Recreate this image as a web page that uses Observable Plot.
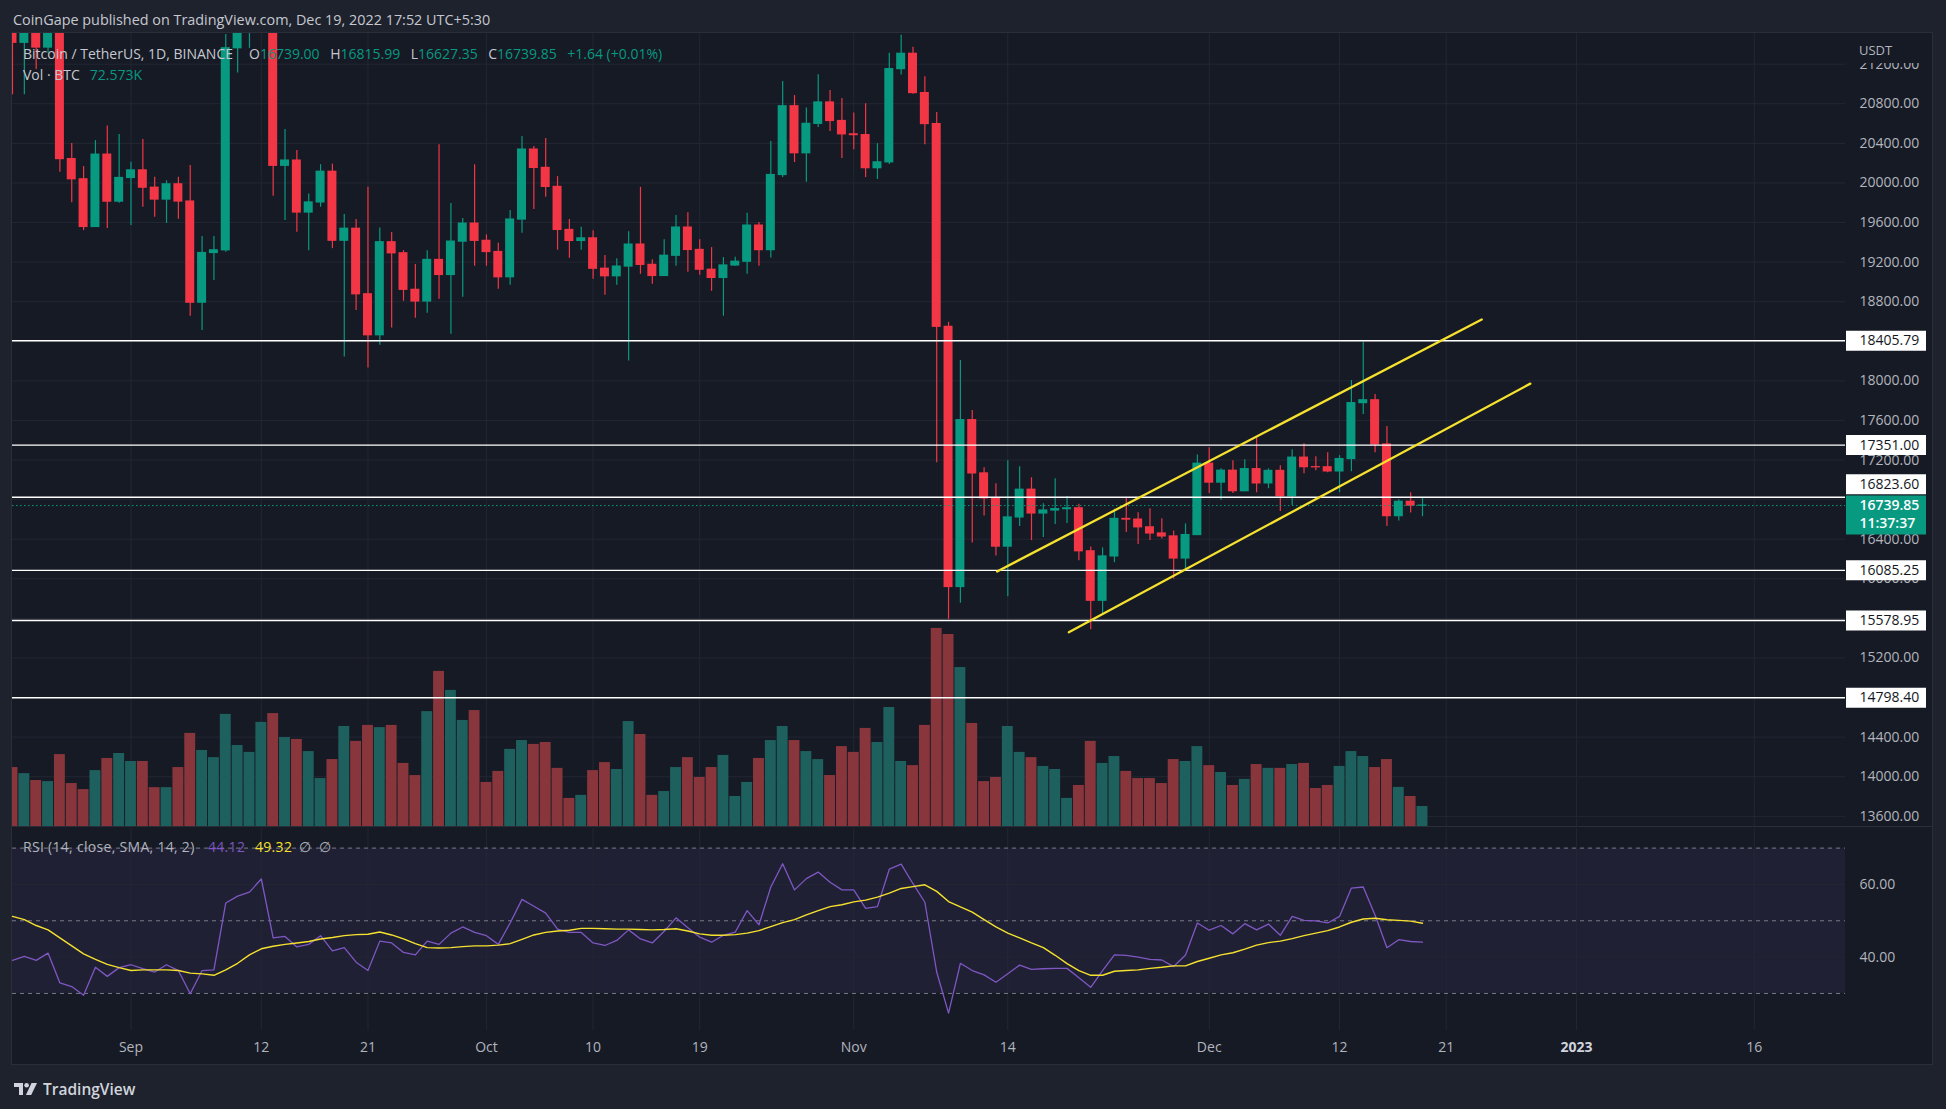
<!DOCTYPE html>
<html>
<head>
<meta charset="utf-8">
<script src="https://cdn.jsdelivr.net/npm/d3@7"></script>
<script src="https://cdn.jsdelivr.net/npm/@observablehq/plot@0.6"></script>
<style>
html, body { margin:0; padding:0; width:1946px; height:1109px; overflow:hidden; background:#1e222d; font-family:"Open Sans", sans-serif; }
#root { position:relative; width:1946px; height:1109px; }
.abs { position:absolute; }
.abs svg { display:block; max-width:none; }
.txt { position:absolute; white-space:nowrap; }
</style>
</head>
<body>
<div id="root"></div>
<script>
// ---------------- DATA ----------------
const firstDay = "2022-08-22";           // first candle (daily, UTC)
const opens = [21517,21416,21529,21368,21560,20241,20037,19555,20286,19811,
20050,20127,19952,19832,19986,19812,18790,19292,19319,21361,
21652,21826,22395,20173,20226,19701,19803,20113,19416,19537,
18875,18461,19401,19289,18920,18802,19222,19070,19407,19589,
19415,19302,19047,19630,20337,20152,19960,19525,19414,19440,
19133,19057,19155,19377,19172,19060,19264,19549,19323,19123,
19040,19166,19204,19569,19321,20080,20775,20300,20597,20813,
20626,20491,20483,20149,20208,21150,21305,20908,20595,18546,
15917,17603,17065,16813,16325,16620,16900,16660,16690,16704,
16712,16278,15778,16226,16605,16598,16520,16458,16428,16205,
16442,17163,16972,17092,16885,17108,16964,17090,16834,17224,
17128,17127,17085,17210,17775,17804,17357,16633,16778,16739.00];
const highs = [21548,21684,21900,21819,21887,20399,20165,20428,20575,20489,
20209,20440,20057,20022,20057,20175,19458,19458,21500,21810,
21860,22488,22799,20541,20327,19889,20185,20190,19680,19630,
19956,19545,19498,19316,19175,19316,20387,19791,19640,20185,
19475,19390,19721,20468,20367,20448,20064,19630,19552,19518,
19266,19235,19508,19956,19225,19427,19670,19700,19427,19347,
19246,19249,19694,19599,20418,21025,20882,20756,21094,20935,
20854,20707,20801,20397,21310,21493,21371,21074,20711,18593,
18206,17701,17123,16960,17193,17132,17021,16758,17011,16832,
16754,16322,16312,16704,16822,16667,16707,16606,16484,16555,
17251,17325,17112,17193,17203,17436,17112,17143,17305,17365,
17234,17274,17244,18004,18389,17862,17538,16798,16869,16815.99];
const lows = [20890,20890,21145,21310,20107,19800,19518,19550,19540,19795,
19570,19754,19653,19590,19633,18653,18510,19013,19300,21111,
21360,21538,19866,19620,19502,19316,19754,19336,18240,18710,
18130,18360,18535,18804,18633,18683,18825,18471,18845,19158,
19158,18926,18966,19491,19731,19855,19320,19239,19320,19027,
18865,18966,18200,19077,18976,19057,19158,19097,19067,18905,
18653,19158,19077,19158,19241,20055,20206,20006,20560,20520,
20247,20336,20055,20035,20186,21090,20895,20385,17172,15591,
15754,16361,16634,16231,15819,16528,16386,16416,16548,16558,
16183,15485,15630,16163,16467,16346,16386,16403,15998,16096,
16437,16862,16791,16862,16879,16869,16910,16680,16741,17061,
17092,17072,16869,17082,17659,17274,16528,16585,16666,16627.35];
const closes = [21416,21529,21368,21560,20241,20037,19555,20286,19811,20050,
20127,19952,19832,19986,19812,18790,19292,19319,21361,21652,
21826,22395,20173,20226,19701,19803,20113,19416,19537,18875,
18461,19401,19289,18920,18802,19222,19070,19407,19589,19415,
19302,19047,19630,20337,20152,19960,19525,19414,19440,19133,
19057,19155,19377,19172,19060,19264,19549,19323,19123,19040,
19166,19204,19569,19321,20080,20775,20300,20597,20813,20626,
20491,20483,20149,20208,21150,21305,20908,20595,18546,15917,
17603,17065,16813,16325,16620,16900,16660,16690,16704,16712,
16278,15778,16226,16605,16598,16520,16458,16428,16205,16442,
17163,16972,17092,16885,17108,16964,17090,16834,17224,17128,
17127,17085,17210,17775,17804,17357,16633,16778,16739,16739.85];
// volume in thousand BTC
const volumesK = [214,192,167,163,261,156,134,203,247,265,
236,236,141,141,214,338,276,250,407,294,
269,378,410,323,316,272,174,243,363,309,
367,359,367,229,185,417,563,494,385,421,
160,200,280,312,298,305,211,102,113,203,
232,207,381,334,113,127,214,250,178,214,
258,109,160,247,312,363,312,272,243,185,
290,269,356,305,432,236,221,367,719,697,
577,374,163,178,363,269,250,218,207,102,
149,309,229,254,200,174,174,156,243,236,
290,221,196,149,171,225,211,211,225,229,
138,149,218,272,254,214,243,142,109,72.573];
const rsiValues = [39.1,40.2,39.1,41.1,32.9,31.9,29.5,37.2,34.7,37.1,
37.9,36.8,35.9,37.9,36.3,29.9,36.3,36.5,54.9,56.8,
57.9,61.5,45.3,45.7,42.8,43.5,45.9,41.7,42.6,38.6,
36.3,44.4,43.9,41.3,40.6,44.4,43.5,46.6,48.3,46.8,
45.9,43.5,49.4,55.9,54.0,52.1,47.7,46.8,46.8,43.9,
43.2,44.6,47.5,45.0,43.9,47.1,50.8,48.1,45.5,44.1,
46.0,46.9,52.8,48.9,59.3,65.7,58.5,61.6,63.4,60.6,
58.5,58.5,53.4,53.9,64.2,65.6,60.2,55.1,35.9,24.6,
38.3,36.3,35.1,33.1,35.4,37.8,36.6,36.8,36.9,36.9,
34.3,31.7,36.3,40.6,40.5,40.0,39.4,39.2,37.4,40.6,
49.4,47.4,48.7,46.4,49.2,47.5,49.1,46.0,51.2,50.1,
50.0,49.4,51.2,59.0,59.3,51.5,42.6,44.8,44.3,44.12];
const rsiSMA = [51.2,50.3,48.7,47.5,45.3,43.1,40.9,39.4,38.0,37.1,
36.3,36.5,36.5,36.5,36.3,35.6,35.4,35.0,36.5,38.3,
40.6,42.3,43.0,43.5,43.9,44.3,45.0,45.4,45.9,46.2,
46.3,46.9,46.1,45.0,43.7,42.6,42.5,42.6,42.9,43.1,
43.1,43.3,43.7,44.9,46.1,46.8,47.2,47.4,47.9,47.9,
47.8,47.7,47.7,47.6,47.5,47.6,47.8,47.2,46.4,46.0,
46.0,46.2,46.6,47.3,48.4,49.5,50.3,51.6,52.8,53.9,
54.4,55.2,55.7,56.5,57.6,58.9,59.4,59.9,58.1,55.3,
53.8,52.4,50.3,48.3,46.6,45.3,43.9,42.6,40.5,38.2,
36.3,35.0,35.0,36.1,36.3,36.5,36.9,37.2,37.6,37.6,
38.8,39.7,40.6,41.2,42.2,43.3,44.0,44.4,45.1,45.9,
46.6,47.3,48.3,49.6,50.5,50.7,50.3,50.1,49.9,49.32];
const levelPrices = [18405.79, 17351.00, 16823.60, 16085.25, 15578.95, 14798.40];
const priceGridTicks = [13600,14000,14400,14800,15200,15600,16000,16400,16800,17200,17600,18000,18400,18800,19200,19600,20000,20400,20800,21200];
const priceAxisLabels = [21200,20800,20400,20000,19600,19200,18800,18000,17600,17200,16400,16000,15200,14400,14000,13600];
const rsiGridTicks = [60, 40];
const rsiBands = [70, 50, 30];
const timeTickDates = ["2022-09-01","2022-09-12","2022-09-21","2022-10-01","2022-10-10","2022-10-19","2022-11-01","2022-11-14","2022-12-01","2022-12-12","2022-12-21","2023-01-01","2023-01-16"];
const timeTickLabels = ["Sep","12","21","Oct","10","19","Nov","14","Dec","12","21","2023","16"];
// channel lines: [days after first candle], [price]
const channelUpperDays = [83.1, 124.0], channelUpperPrices = [16074, 18620];
const channelLowerDays = [89.15, 128.1], channelLowerPrices = [15460, 17972];
const countdown = "11:37:37";

// ---------------- BUILD ----------------
const DAY = 86400000;
const t0 = +new Date(firstDay);
const dayDate = k => new Date(t0 + k * DAY);
const candles = closes.map((c, i) => ({
  date: dayDate(i), open: opens[i], high: highs[i], low: lows[i], close: c,
  volume: volumesK[i], rsi: rsiValues[i], ma: rsiSMA[i]
}));
const last = candles[candles.length - 1];
const upper = channelUpperDays.map((d, i) => ({date: dayDate(d), price: channelUpperPrices[i]}));
const lower = channelLowerDays.map((d, i) => ({date: dayDate(d), price: channelLowerPrices[i]}));
const ticks = timeTickDates.map((d, i) => ({date: new Date(d), label: timeTickLabels[i]}));

const GREEN = "#089981", RED = "#f23645", VGREEN = "#1e605e", VRED = "#88363b";
const GRID = "#232733", TXT = "#b2b5be", YEL = "#f5e12e", PURP = "#7e57c2";
const isUp = d => d.close >= d.open;

const xDomain = [dayDate(0), dayDate(154.7)];
const priceDomain = [13497, 21510];
const root = document.getElementById("root");

function place(el, left, top, w) {
  const d = document.createElement("div");
  d.className = "abs";
  d.style.left = left + "px"; d.style.top = top + "px";
  if (w) d.style.width = w + "px";
  d.appendChild(el); root.appendChild(d); return d;
}
function box(left, top, w, h, bg, extra) {
  const d = document.createElement("div");
  d.className = "abs";
  Object.assign(d.style, {left: left+"px", top: top+"px", width: w+"px", height: h+"px", background: bg}, extra || {});
  root.appendChild(d); return d;
}
function text(html, left, top, css) {
  const d = document.createElement("div");
  d.className = "txt";
  d.innerHTML = html;
  Object.assign(d.style, {left: left+"px", top: top+"px"}, css || {});
  root.appendChild(d); return d;
}
const baseStyle = {background: "transparent", overflow: "visible", fontFamily: "Open Sans, sans-serif"};

// frame
box(11, 32, 1922, 1033, "#161a25", {border: "1px solid #2a2e39", boxSizing: "border-box"});
// header
text("CoinGape published on TradingView.com, Dec 19, 2022 17:52 UTC+5:30", 13, 9, {fontSize: "14.4px", lineHeight: "22px", color: "#c5c8d0"});

const PW = 1845, PH = 793;
const common = {width: PW, height: PH, marginLeft: 12, marginRight: 0, marginTop: 0, marginBottom: 0,
  x: {type: "utc", domain: xDomain, axis: null}, style: baseStyle};

// grid
place(Plot.plot({...common, y: {domain: priceDomain, axis: null},
  marks: [
    Plot.ruleY(priceGridTicks, {stroke: GRID, strokeWidth: 1}),
    Plot.ruleX(ticks, {x: "date", stroke: GRID, strokeWidth: 1})
  ]}), 0, 33, PW);

// volume
place(Plot.plot({...common, y: {domain: [0, PH * 3.63], axis: null}, color: {type: "identity"},
  marks: [
    Plot.rectY(candles, {x1: d => new Date(+d.date - 0.46 * DAY), x2: d => new Date(+d.date + 0.46 * DAY),
      y: "volume", fill: d => isUp(d) ? VGREEN : VRED, clip: true})
  ]}), 0, 33, PW);

// candles & drawings
place(Plot.plot({...common, y: {domain: priceDomain, axis: null}, color: {type: "identity"},
  marks: [
    Plot.ruleX(candles, {x: "date", y1: "low", y2: "high", stroke: d => isUp(d) ? GREEN : RED, strokeWidth: 1.2, clip: true}),
    Plot.rect(candles, {x1: d => new Date(+d.date - 0.38 * DAY), x2: d => new Date(+d.date + 0.38 * DAY),
      y1: "open", y2: "close", fill: d => isUp(d) ? GREEN : RED, insetTop: -0.6, insetBottom: -0.6, clip: true}),
    Plot.ruleY(levelPrices, {stroke: "#ffffff", strokeWidth: 1.4}),
    Plot.ruleY([last.close], {stroke: GREEN, strokeWidth: 1, strokeDasharray: "1.5,2.5"}),
    Plot.line(upper, {x: "date", y: "price", stroke: YEL, strokeWidth: 2.3, clip: true}),
    Plot.line(lower, {x: "date", y: "price", stroke: YEL, strokeWidth: 2.3, clip: true})
  ]}), 0, 33, PW);

// price axis column
const AW = 87;
const nearLast = d => Math.abs(d - last.close) < 120;
place(Plot.plot({width: AW, height: PH, marginLeft: 1, marginRight: 6, marginTop: 0, marginBottom: 0,
  y: {domain: priceDomain, axis: null}, style: baseStyle,
  marks: [
    Plot.text(priceAxisLabels, {y: d => d, text: d => d.toFixed(2), frameAnchor: "left", dx: 13, textAnchor: "start", fill: TXT, fontSize: 14}),
    Plot.ruleY(levelPrices.filter(d => !nearLast(d)), {stroke: "#ffffff", strokeWidth: 20}),
    Plot.ruleY(levelPrices.filter(nearLast), {stroke: "#ffffff", strokeWidth: 20, dy: -13}),
    Plot.text(levelPrices.filter(d => !nearLast(d)), {y: d => d, text: d => d.toFixed(2), frameAnchor: "left", dx: 13, textAnchor: "start", fill: "#131722", fontSize: 14}),
    Plot.text(levelPrices.filter(nearLast), {y: d => d, text: d => d.toFixed(2), frameAnchor: "left", dx: 13, dy: -13, textAnchor: "start", fill: "#131722", fontSize: 14}),
    Plot.ruleY([last.close], {stroke: GREEN, strokeWidth: 39, dy: 9.5}),
    Plot.text([last.close], {y: d => d, text: d => d.toFixed(2), frameAnchor: "left", dx: 13, textAnchor: "start", fill: "#ffffff", fontSize: 14, fontWeight: 600}),
    Plot.text([last.close], {y: d => d, text: () => countdown, frameAnchor: "left", dx: 13, dy: 18, textAnchor: "start", fill: "#ffffff", fontSize: 14, fontWeight: 600})
  ]}), PW, 33, AW);
box(PW, 33, AW, 30, "#161a25");
text("USDT", 1859, 40, {fontSize: "13px", lineHeight: "20px", color: TXT});

// legend
text('<span style="color:#c5c8d0">Bitcoin / TetherUS, 1D, BINANCE</span>' +
  '<span style="margin-left:16px;color:#c5c8d0">O</span><span style="color:#089981">16739.00</span>' +
  '<span style="margin-left:10.5px;color:#c5c8d0">H</span><span style="color:#089981">16815.99</span>' +
  '<span style="margin-left:10.5px;color:#c5c8d0">L</span><span style="color:#089981">16627.35</span>' +
  '<span style="margin-left:10.5px;color:#c5c8d0">C</span><span style="color:#089981">16739.85</span>' +
  '<span style="margin-left:10.5px;color:#089981">+1.64 (+0.01%)</span>', 23, 44, {fontSize: "14px", lineHeight: "20px"});
text('<span style="color:#c5c8d0">Vol · BTC</span><span style="margin-left:10px;color:#089981">72.573K</span>', 23, 65, {fontSize: "14px", lineHeight: "20px"});

// pane separator
box(12, 826, 1920, 1, "#2a2e39");

// RSI pane
const RH = 236, RMB = 34;
const rsiDomain = [19.8, 75.4];
place(Plot.plot({width: PW, height: RH, marginLeft: 12, marginRight: 0, marginTop: 0, marginBottom: RMB,
  x: {type: "utc", domain: xDomain, axis: null}, y: {domain: rsiDomain, axis: null}, style: baseStyle,
  marks: [
    Plot.rect([0], {x1: () => xDomain[0], x2: () => xDomain[1], y1: () => 30, y2: () => 70, fill: PURP, fillOpacity: 0.1}),
    Plot.ruleX(ticks, {x: "date", stroke: GRID}),
    Plot.ruleY(rsiGridTicks, {stroke: GRID}),
    Plot.ruleY(rsiBands, {stroke: "#787b86", strokeDasharray: "4,4", strokeWidth: 1}),
    Plot.line(candles, {x: "date", y: "rsi", stroke: PURP, strokeWidth: 1.3}),
    Plot.line(candles, {x: "date", y: "ma", stroke: YEL, strokeWidth: 1.4}),
    Plot.text(ticks.filter(t => !/^\d{4}$/.test(t.label)), {x: "date", text: "label", frameAnchor: "bottom", dy: 21.5, fill: TXT, fontSize: 14}),
    Plot.text(ticks.filter(t => /^\d{4}$/.test(t.label)), {x: "date", text: "label", frameAnchor: "bottom", dy: 21.5, fill: "#d1d4dc", fontSize: 14, fontWeight: 700})
  ]}), 0, 828, PW);
place(Plot.plot({width: AW, height: RH, marginLeft: 1, marginRight: 6, marginTop: 0, marginBottom: RMB,
  y: {domain: rsiDomain, axis: null}, style: baseStyle,
  marks: [
    Plot.text(rsiGridTicks, {y: d => d, text: d => d.toFixed(2), frameAnchor: "left", dx: 13, textAnchor: "start", fill: TXT, fontSize: 14})
  ]}), PW, 828, AW);

// RSI legend
const rsiCss = {fontSize: "14px", lineHeight: "18px", letterSpacing: "0.3px"};
text("RSI (14, close, SMA, 14, 2)", 23, 838, {...rsiCss, color: "#b2b5be"});
text(rsiValues[rsiValues.length-1].toFixed(2), 208, 838, {...rsiCss, color: PURP});
text(rsiSMA[rsiSMA.length-1].toFixed(2), 255, 838, {...rsiCss, color: YEL});
text("∅", 299, 838, {...rsiCss, color: "#b2b5be"});
text("∅", 319, 838, {...rsiCss, color: "#b2b5be"});

// footer logo
const logo = document.createElement("div");
logo.className = "txt";
logo.style.left = "14px"; logo.style.top = "1076px";
logo.innerHTML = '<svg width="24" height="14" viewBox="0 0 24 14" style="vertical-align:middle"><path d="M0 1h9v12H5V5H0z" fill="#d1d4dc"/><circle cx="12.6" cy="3.2" r="2.3" fill="#d1d4dc"/><path d="M17.5 1h5.5l-5.8 12h-5.3z" fill="#d1d4dc"/></svg>' +
  '<span style="margin-left:5px;vertical-align:middle;font-size:15.5px;font-weight:600;color:#d1d4dc">TradingView</span>';
root.appendChild(logo);
</script>
</body>
</html>
